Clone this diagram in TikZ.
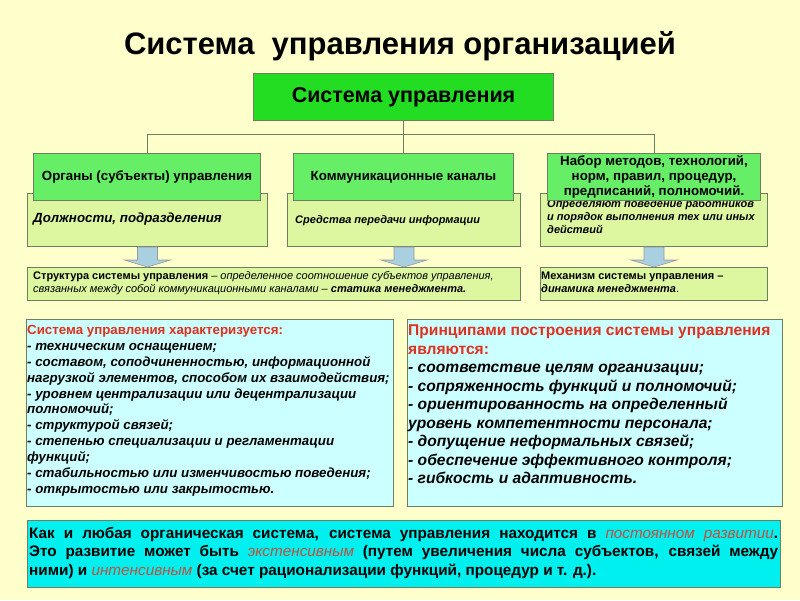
\documentclass[tikz,border=0pt]{standalone}
\usepackage{fontspec}
\setmainfont{Liberation Sans}
\usetikzlibrary{calc}
\definecolor{bg}{HTML}{FFFFCC}
\definecolor{topgreen}{HTML}{22DD22}
\definecolor{midgreen}{HTML}{66EE66}
\definecolor{paleg}{HTML}{DDF7A0}
\definecolor{arrowblue}{HTML}{A8D0E0}
\definecolor{palecyan}{HTML}{CCFFFF}
\definecolor{cyanbox}{HTML}{00F0F0}
\definecolor{edge}{HTML}{6E7E60}
\definecolor{redhead}{HTML}{E03020}
\definecolor{redword}{HTML}{C0503F}
\newcommand\fsz[2]{\fontsize{#1pt}{#2pt}\selectfont}
\newcommand\blockarr[2]{%
  \filldraw[barrowstyle] ($(#1)+(-10,0)$) -- ($(#2)+(-10,-7)$) -- ($(#2)+(-23,-7)$) -- (#2)
    -- ($(#2)+(23,-7)$) -- ($(#2)+(10,-7)$) -- ($(#1)+(10,0)$) -- cycle;}
\begin{document}
\begin{tikzpicture}[x=1pt,y=-1pt,
  box/.style={draw=edge, line width=1pt, anchor=north west, inner sep=0pt},
  txt/.style={inner sep=0pt, anchor=north west, align=left},
  conn/.style={draw=edge, line width=1pt},
  barrowstyle/.style={fill=arrowblue, draw=gray!80, line width=0.6pt}]
\fill[bg] (0,0) rectangle (800,600);
\useasboundingbox (0,0) rectangle (800,600);

\node[font=\bfseries\fsz{31}{34}] (title) at (400,46) {Система\ \ управления организацией};

\node[box, fill=topgreen, minimum width=300pt, minimum height=47pt, font=\bfseries\fsz{21.5}{24}] (top) at (253,73) {Система управления};

% yellow boxes
\node[box, fill=paleg, minimum width=240pt, minimum height=53pt] (y1) at (27,193) {};
\node[box, fill=paleg, minimum width=233pt, minimum height=53pt] (y2) at (287,193) {};
\node[box, fill=paleg, minimum width=227pt, minimum height=53pt] (y3) at (540,193) {};
\node[txt, anchor=west, font=\bfseries\itshape\fsz{13.3}{15}] (t1) at (33,219) {Должности, подразделения};
\node[txt, anchor=west, font=\bfseries\itshape\fsz{11}{13}] (t2) at (295,221) {Средства передачи информации};
\node[txt, font=\bfseries\itshape\fsz{11}{13}] (t3) at (547,199.5) {Определяют поведение работников\\и порядок выполнения тех или иных\\действий};

% green boxes
\node[box, fill=midgreen, minimum width=227pt, minimum height=47pt, font=\bfseries\fsz{13.3}{15}] (g1) at (33,153) {Органы (субъекты) управления};
\node[box, fill=midgreen, minimum width=220pt, minimum height=47pt, font=\bfseries\fsz{13.3}{15}] (g2) at (293,153) {Коммуникационные каналы};
\node[box, fill=midgreen, minimum width=213pt, minimum height=47pt, align=center, font=\bfseries\fsz{13.3}{15}] (g3) at (547,153) {Набор методов, технологий,\\норм, правил, процедур,\\предписаний, полномочий.};

% connectors
\draw[conn] (top.south) -- ++(0,13) coordinate (hub);
\draw[conn] (hub) -| (g1.north);
\draw[conn] (hub) -| (g3.north);
\draw[conn] (hub) -- (hub |- g2.north);

% lower boxes
\node[box, fill=paleg, minimum width=493pt, minimum height=33pt] (s1) at (27,267) {};
\node[box, fill=paleg, minimum width=227pt, minimum height=33pt] (s2) at (540,267) {};
\node[txt, font=\fsz{11}{13}] (st) at (33,271.5) {\textbf{Структура системы управления} – \textit{определенное соотношение субъектов управления,}\\\textit{связанных между собой коммуникационными каналами –} \textbf{\textit{статика менеджмента.}}};
\node[txt, font=\fsz{11}{13}] (mt) at (541,271.5) {\textbf{Механизм системы управления –}\\\textbf{\textit{динамика менеджмента}}.};

% block arrows
\coordinate (a1s) at (y1.south);
\coordinate (a1e) at (y1.south |- s1.north);
\coordinate (a2s) at (y2.south);
\coordinate (a2e) at (y2.south |- s1.north);
\coordinate (a3s) at (y3.south);
\coordinate (a3e) at (y3.south |- s2.north);
\blockarr{a1s}{a1e}
\blockarr{a2s}{a2e}
\blockarr{a3s}{a3e}

% cyan boxes
\node[box, fill=palecyan, minimum width=367pt, minimum height=187pt] (c1) at (26,319) {};
\node[box, fill=palecyan, minimum width=375pt, minimum height=187pt] (c2) at (407,319) {};
\node[txt, font=\bfseries\itshape\fsz{13.3}{15.9}] (ct1) at (27,325) {\textcolor{redhead}{\upshape Система управления характеризуется:}\\
- техническим оснащением;\\
- составом, соподчиненностью, информационной\\
нагрузкой элементов, способом их взаимодействия;\\
- уровнем централизации или децентрализации\\
полномочий;\\
- структурой связей;\\
- степенью специализации и регламентации\\
функций;\\
- стабильностью или изменчивостью поведения;\\
- открытостью или закрытостью.};
\node[txt, font=\bfseries\itshape\fsz{15.6}{18.5}] (ct2) at (408,325) {\textcolor{redhead}{\upshape Принципами построения системы управления}\\
\textcolor{redhead}{\upshape являются:}\\
- соответствие целям организации;\\
- сопряженность функций и полномочий;\\
- ориентированность на определенный\\
уровень компетентности персонала;\\
- допущение неформальных связей;\\
- обеспечение эффективного контроля;\\
- гибкость и адаптивность.};

% bottom box
\node[box, fill=cyanbox, minimum width=753pt, minimum height=67pt] (b) at (27,520) {};
\node[txt, text width=749pt, align=justify, font=\bfseries\fsz{15.3}{18.5}] (bt) at (29,527) {Как и любая органическая система, система управления находится в \textcolor{redword}{\mdseries\itshape постоянном развитии}.\linebreak Это развитие может быть \textcolor{redword}{\mdseries\itshape экстенсивным} (путем увеличения числа субъектов, связей между\linebreak ними) и \textcolor{redword}{\mdseries\itshape интенсивным} (за счет рационализации функций, процедур и т. д.).};
\end{tikzpicture}
\end{document}
